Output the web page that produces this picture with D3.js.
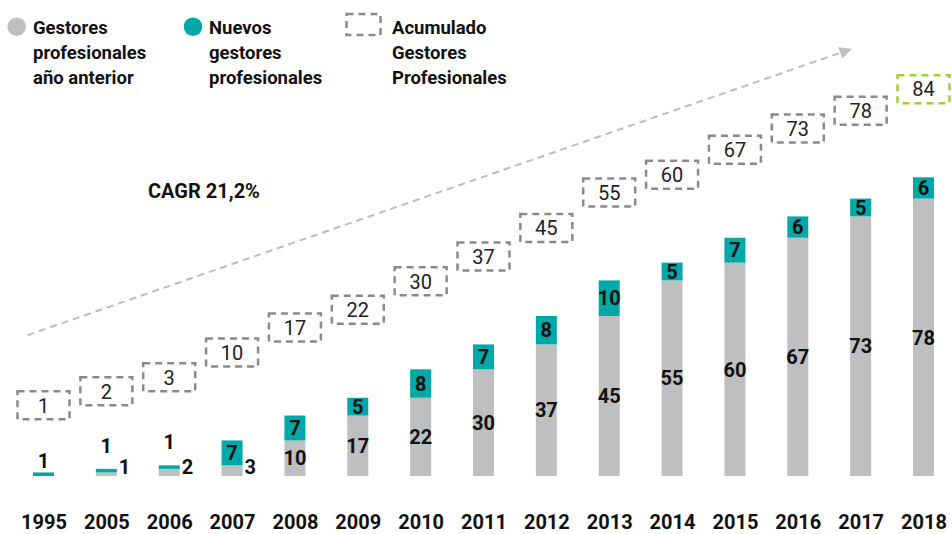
<!DOCTYPE html>
<html>
<head>
    <meta charset="utf-8">
    <title>Gestores profesionales</title>
    <script src="https://d3js.org/d3.v7.min.js"></script>
    <style>
        body {
            margin: 0;
            background: #ffffff;
            font-family: Roboto, "Liberation Sans", sans-serif;
        }
        text {
            fill: #111111;
        }
    </style>
</head>
<body>
<div id="chart"></div>
<script>
    // data
    const years = ["1995", "2005", "2006", "2007", "2008", "2009", "2010", "2011",
        "2012", "2013", "2014", "2015", "2016", "2017", "2018"];
    const anterior = [0, 1, 2, 3, 10, 17, 22, 30, 37, 45, 55, 60, 67, 73, 78];
    const nuevos = [1, 1, 1, 7, 7, 5, 8, 7, 8, 10, 5, 7, 6, 5, 6];
    const acumulado = [1, 2, 3, 10, 17, 22, 30, 37, 45, 55, 60, 67, 73, 78, 84];
    const legendLabels = [
        ["Gestores", "profesionales", "año anterior"],
        ["Nuevos", "gestores", "profesionales"],
        ["Acumulado", "Gestores", "Profesionales"]
    ];
    const cagrLabel = "CAGR 21,2%";

    const width = 952;
    const height = 534;

    const grayColor = "#bebfc1";
    const tealColor = "#00a9a8";
    const boxColor = "#8a8a8a";
    const lastBoxColor = "#9fd03c";
    const arrowColor = "#bdbdbd";

    const svg = d3.select("#chart")
        .append("svg")
        .attr("width", width)
        .attr("height", height);

    // scales
    const x = d3.scalePoint()
        .domain(years)
        .range([43.5, 923.5]);

    const y = d3.scaleLinear()
        .domain([0, 100])
        .range([476, 120.4]);

    const barW = 21;

    const rows = years.map(function (yr, i) {
        return {year: yr, prev: anterior[i], nuevo: nuevos[i], total: acumulado[i]};
    });

    // arrow (trend), drawn first so boxes sit on top
    const defs = svg.append("defs");
    defs.append("marker")
        .attr("id", "arrowhead")
        .attr("viewBox", "0 0 10 10")
        .attr("refX", 9)
        .attr("refY", 5)
        .attr("markerWidth", 8)
        .attr("markerHeight", 6)
        .attr("markerUnits", "strokeWidth")
        .attr("orient", "auto")
        .append("path")
        .attr("d", "M0,0 L10,5 L0,10 Z")
        .attr("fill", arrowColor);

    svg.append("line")
        .attr("x1", x("1995") - 16)
        .attr("y1", y(39.6))
        .attr("x2", x("2018") - 73)
        .attr("y2", y(120))
        .attr("stroke", arrowColor)
        .attr("stroke-width", 2)
        .attr("stroke-dasharray", "7,5")
        .attr("marker-end", "url(#arrowhead)");

    svg.append("text")
        .attr("x", 148)
        .attr("y", 198)
        .attr("font-size", 20)
        .attr("font-weight", "bold")
        .text(cagrLabel);

    // stacked bars
    const g = svg.append("g");

    g.selectAll("rect.prev")
        .data(rows.filter(d => d.prev > 0))
        .enter()
        .append("rect")
        .attr("class", "prev")
        .attr("x", d => x(d.year) - barW / 2)
        .attr("y", d => y(d.prev))
        .attr("width", barW)
        .attr("height", d => y(0) - y(d.prev))
        .attr("fill", grayColor);

    g.selectAll("rect.nuevo")
        .data(rows)
        .enter()
        .append("rect")
        .attr("class", "nuevo")
        .attr("x", d => x(d.year) - barW / 2)
        .attr("y", d => y(d.prev + d.nuevo))
        .attr("width", barW)
        .attr("height", d => y(d.prev) - y(d.prev + d.nuevo))
        .attr("fill", tealColor);

    // gray labels: inside when the segment is tall enough, else to the right
    const grayFits = d => (y(0) - y(d.prev)) > 15;
    g.selectAll("text.prev")
        .data(rows.filter(d => d.prev > 0))
        .enter()
        .append("text")
        .attr("class", "prev")
        .attr("font-size", 20)
        .attr("font-weight", "bold")
        .attr("x", d => grayFits(d) ? x(d.year) : x(d.year) + barW / 2 + 2)
        .attr("y", d => grayFits(d) ? (y(0) + y(d.prev)) / 2 : y(0) - 2)
        .attr("dy", d => grayFits(d) ? "0.36em" : 0)
        .attr("text-anchor", d => grayFits(d) ? "middle" : "start")
        .text(d => d.prev);

    const tealFits = d => (y(d.prev) - y(d.prev + d.nuevo)) > 10;
    g.selectAll("text.nuevo")
        .data(rows)
        .enter()
        .append("text")
        .attr("class", "nuevo")
        .attr("font-size", 20)
        .attr("font-weight", "bold")
        .attr("text-anchor", "middle")
        .attr("x", d => x(d.year))
        .attr("y", function (d) {
            const top = y(d.prev + d.nuevo);
            if (tealFits(d)) return (top + y(d.prev)) / 2;
            // lift above the outside gray label when there is one
            return top - 4 - (d.prev > 0 && !grayFits(d) ? 12 : 0);
        })
        .attr("dy", d => tealFits(d) ? "0.36em" : 0)
        .text(d => d.nuevo);

    // dashed boxes with the cumulative value
    const boxW = 52, boxH = 28;
    const boxCy = new Array(rows.length);
    for (let i = rows.length - 1; i >= 0; i--) {
        let c = y(rows[i].total) - 88;
        if (i < rows.length - 1) c = Math.max(c, boxCy[i + 1] + 14);
        boxCy[i] = c;
    }
    rows.forEach((d, i) => d.boxCy = boxCy[i]);

    const boxes = svg.append("g").selectAll("g")
        .data(rows)
        .enter()
        .append("g")
        .attr("transform", d => "translate(" + x(d.year) + "," + d.boxCy + ")");

    boxes.append("rect")
        .attr("x", -boxW / 2)
        .attr("y", -boxH / 2)
        .attr("width", boxW)
        .attr("height", boxH)
        .attr("fill", "white")
        .attr("stroke", (d, i) => i === rows.length - 1 ? lastBoxColor : boxColor)
        .attr("stroke-width", 2.5)
        .attr("stroke-dasharray", "7,5");

    boxes.append("text")
        .attr("text-anchor", "middle")
        .attr("dy", "0.36em")
        .attr("font-size", 20)
        .style("fill", "#222")
        .text(d => d.total);

    // year axis
    const xAxis = svg.append("g")
        .attr("transform", "translate(0,529)")
        .call(d3.axisBottom(x).tickSize(0).tickPadding(0));
    xAxis.select(".domain").remove();
    xAxis.selectAll("text")
        .attr("dy", 0)
        .attr("y", 0)
        .attr("font-size", 20)
        .attr("font-weight", "bold")
        .attr("font-family", "Roboto, sans-serif")
        .style("fill", "#111");

    // legend
    const legend = svg.append("g");
    legend.append("circle").attr("cx", 16.7).attr("cy", 26.7).attr("r", 9.3).attr("fill", grayColor);
    legend.append("circle").attr("cx", 193).attr("cy", 26.7).attr("r", 9.3).attr("fill", tealColor);
    legend.append("rect")
        .attr("x", 346.5).attr("y", 14)
        .attr("width", 34).attr("height", 21)
        .attr("fill", "none")
        .attr("stroke", boxColor)
        .attr("stroke-width", 2.5)
        .attr("stroke-dasharray", "7,5");

    const legendX = [33, 209, 392];
    legendLabels.forEach(function (lines, k) {
        const t = legend.append("text")
            .attr("font-size", 18.5)
            .attr("font-weight", "bold");
        lines.forEach(function (line, j) {
            t.append("tspan")
                .attr("x", legendX[k])
                .attr("y", 34 + j * 25)
                .text(line);
        });
    });
</script>
</body>
</html>
